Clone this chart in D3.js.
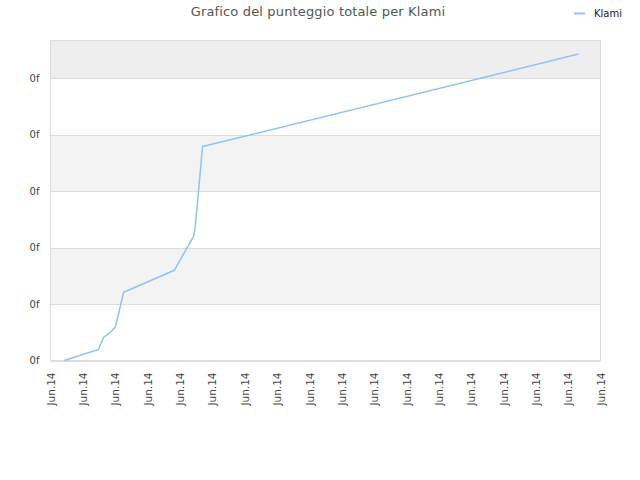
<!DOCTYPE html>
<html>
<head>
<meta charset="utf-8">
<script src="https://cdn.jsdelivr.net/npm/d3@7"></script>
<style>
body{margin:0;background:#fff;}
text{font-family:"DejaVu Sans",sans-serif;}
</style>
</head>
<body>
<svg id="chart" width="640" height="480"></svg>
<script>
const title = "Grafico del punteggio totale per Klami";
const seriesName = "Klami";
// x positions (in tick-interval units), y values (score units)
const xValues = [0.43, 1.48, 1.58, 1.64, 1.85, 2.01, 2.26, 3.83, 4.42, 4.47, 4.70, 16.32];
const yValues = [0.00, 0.195, 0.33, 0.41, 0.50, 0.60, 1.21, 1.60, 2.20, 2.34, 3.79, 5.43];
const xTicks = d3.range(0, 18);
const xTickLabels = ["Jun.14","Jun.14","Jun.14","Jun.14","Jun.14","Jun.14","Jun.14","Jun.14","Jun.14","Jun.14","Jun.14","Jun.14","Jun.14","Jun.14","Jun.14","Jun.14","Jun.14","Jun.14"];
const yTicks = [0, 1, 2, 3, 4, 5];
const yTickLabels = ["0f","0f","0f","0f","0f","0f"];

const svg = d3.select("#chart");
const pL = 50.5, pR = 600.5, pT = 40.5, pB = 360.5;
const x = d3.scaleLinear().domain([0, 17]).range([pL, pR]);
const y = d3.scaleLinear().domain([0, 5.67]).range([pB, pT]);

// bands
const bandEdges = [0,1,2,3,4,5,5.67];
const bandFills = ["#ffffff","#f3f3f3","#ffffff","#f3f3f3","#ffffff","#eeeeee"];
for (let i = 0; i < bandFills.length; i++) {
  svg.append("rect")
    .attr("x", pL).attr("width", pR - pL)
    .attr("y", y(bandEdges[i+1])).attr("height", y(bandEdges[i]) - y(bandEdges[i+1]))
    .attr("fill", bandFills[i]);
}
// gridlines
svg.append("g").selectAll("line").data(yTicks).join("line")
  .attr("x1", pL).attr("x2", pR)
  .attr("y1", d => Math.round(y(d)) + 0.5).attr("y2", d => Math.round(y(d)) + 0.5)
  .attr("stroke", "#dddddd");
// plot border
svg.append("rect").attr("x", pL).attr("y", pT).attr("width", pR-pL).attr("height", pB-pT)
  .attr("fill", "none").attr("stroke", "#dddddd");

// y axis
const yAxis = d3.axisLeft(y).tickValues(yTicks).tickSize(0).tickPadding(11)
  .tickFormat((d, i) => yTickLabels[i]);
const gy = svg.append("g").attr("transform", `translate(${pL},0)`).call(yAxis);
gy.select(".domain").remove();
gy.selectAll("text").attr("fill", "#444").style("font-size", "10px");

// x axis
const xAxis = d3.axisBottom(x).tickValues(xTicks).tickSize(0).tickPadding(0)
  .tickFormat((d, i) => xTickLabels[i]);
const gx = svg.append("g").attr("transform", `translate(0,${pB})`).call(xAxis);
gx.select(".domain").remove();
gx.selectAll("text")
  .attr("fill", "#444").style("font-size", "10.5px")
  .attr("text-anchor", "end")
  .attr("transform", "rotate(-90)")
  .attr("x", -12).attr("y", 0).attr("dy", "0.35em");

// line
const pts = xValues.map((v, i) => [v, yValues[i]]);
const line = d3.line().x(d => x(d[0])).y(d => y(d[1]));
svg.append("path").datum(pts).attr("d", line)
  .attr("fill", "none").attr("stroke", "#92c1f2").attr("stroke-width", 1.5)
  .attr("stroke-linejoin", "round");

// title
svg.append("text").attr("x", 318).attr("y", 16).attr("text-anchor", "middle")
  .attr("fill", "#555").style("font-size", "13px").style("letter-spacing", "0.15px").text(title);

// legend
svg.append("line").attr("x1", 574).attr("x2", 585).attr("y1", 13.5).attr("y2", 13.5)
  .attr("stroke", "#92c1f2").attr("stroke-width", 2);
svg.append("text").attr("x", 594).attr("y", 16.5).attr("fill", "#222")
  .style("font-size", "10px").text(seriesName);
</script>
</body>
</html>
